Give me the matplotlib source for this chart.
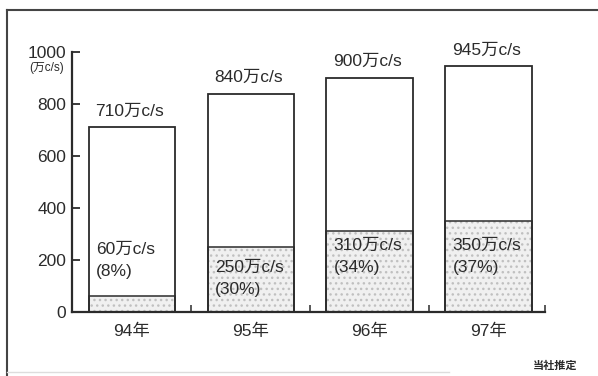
import matplotlib
matplotlib.use('Agg')
import matplotlib.pyplot as plt
from matplotlib.lines import Line2D

plt.rcParams['font.family'] = ['Liberation Sans', 'Noto Sans CJK JP', 'DejaVu Sans']

# data (万c/s)
years = ['94年', '95年', '96年', '97年']
totals = [710, 840, 900, 945]
lower = [60, 250, 310, 350]
shares = ['8%', '30%', '34%', '37%']
yticks = [0, 200, 400, 600, 800, 1000]

ink = '#2b2b2b'
fs = 12.5
fig = plt.figure(figsize=(5.98, 3.76), dpi=100)
ax = fig.add_axes([0.1204, 0.170, 0.7906, 0.692])

x = list(range(len(years)))
w = 0.73

# lower stippled part
ax.bar(x, lower, width=w, color='#f0f0f0', edgecolor='#c0c0c0',
       hatch='...', linewidth=0, zorder=1)
# outlines
ax.bar(x, totals, width=w, fill=False, edgecolor=ink, linewidth=1.3, zorder=3)
ax.bar(x, lower, width=w, fill=False, edgecolor=ink, linewidth=1.1, zorder=3)

for i in x:
    ax.text(i - 0.02, totals[i] + 62, f'{totals[i]}万c/s', ha='center',
            va='center', fontsize=fs, color=ink)

# inner labels
inner_y = [200, 130, 215, 215]
for i in x:
    ax.text(i - w / 2 + 0.06, inner_y[i] + 42, f'{lower[i]}万c/s', ha='left',
            va='center', fontsize=fs, color=ink, zorder=4)
    ax.text(i - w / 2 + 0.06, inner_y[i] - 45, f'({shares[i]})', ha='left',
            va='center', fontsize=fs, color=ink, zorder=4)

ax.set_xlim(-0.504, 3.47)
ax.set_ylim(0, 1000)
ax.set_yticks(yticks)
ax.set_yticklabels([str(v) for v in yticks], fontsize=fs, color=ink)
ax.tick_params(axis='y', direction='in', length=6, width=1.3, pad=4,
               colors=ink)
ax.set_xticks([0.5, 1.5, 2.5, 3.47])
ax.set_xticklabels([])
ax.tick_params(axis='x', direction='in', length=5, width=1.1, colors=ink)
for i in x:
    ax.text(i, -45, years[i], ha='center', va='top', fontsize=fs, color=ink)

for s in ['top', 'right']:
    ax.spines[s].set_visible(False)
for s in ['left', 'bottom']:
    ax.spines[s].set_linewidth(1.6)
    ax.spines[s].set_color(ink)

fig.text(0.1204 - 0.014, 1 - 68 / 376, '(万c/s)', ha='right', va='center',
         fontsize=8.5, color=ink)

# frame
fig.add_artist(Line2D([7 / 598, 7 / 598], [0, 1 - 10 / 376],
                      transform=fig.transFigure, color='#444', lw=1.5))
fig.add_artist(Line2D([7 / 598, 1], [1 - 10 / 376, 1 - 10 / 376],
                      transform=fig.transFigure, color='#444', lw=1.5))
fig.add_artist(Line2D([7 / 598, 0.75], [4 / 376, 4 / 376],
                      transform=fig.transFigure, color='#dddddd', lw=1.0))

fig.text(555 / 598, 1 - 366 / 376, '当社推定', ha='center', va='center',
         fontsize=8, fontweight='bold', color=ink)

fig.savefig('out.png', dpi=100, facecolor='white')
